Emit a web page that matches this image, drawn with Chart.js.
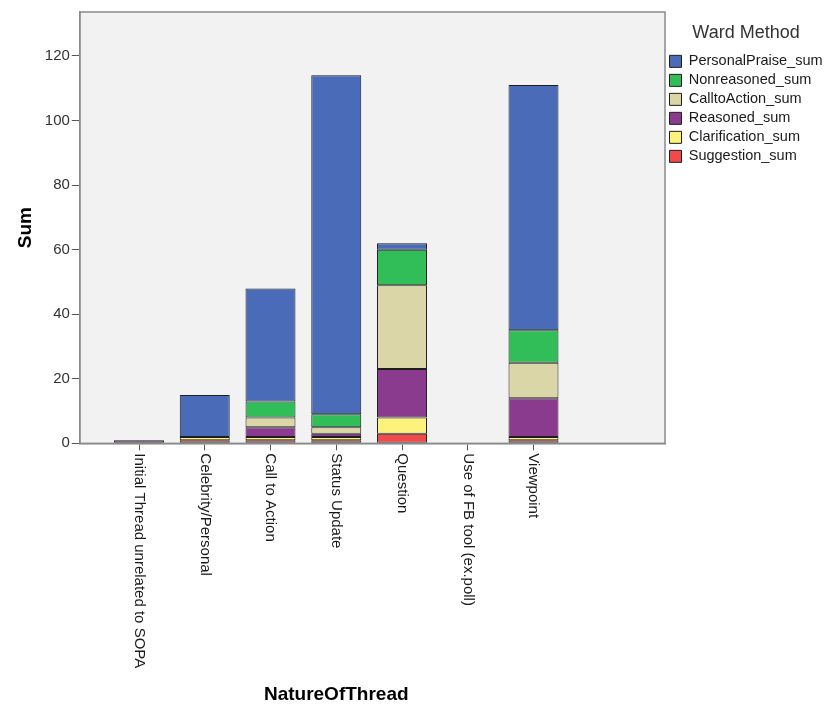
<!DOCTYPE html>
<html>
<head>
<meta charset="utf-8">
<script src="https://cdn.jsdelivr.net/npm/chart.js@4/dist/chart.umd.min.js"></script>
<style>
  html,body{margin:0;padding:0;background:#fff;}
  #wrap{width:827px;height:704px;}
</style>
</head>
<body>
<div id="wrap"><canvas id="chart"></canvas></div>
<script>
// DATA
const categories = ['Initial Thread unrelated to SOPA','Celebrity/Personal','Call to Action','Status Update','Question','Use of FB tool (ex.poll)','Viewpoint'];
const suggestion     = [0, 1, 1, 1, 3, 0, 1];
const clarification  = [0, 1, 1, 1, 5, 0, 1];
const reasoned       = [1, 0, 3, 1, 15, 0, 12];
const callToAction   = [0, 0, 3, 2, 26, 0, 11];
const nonreasoned    = [0, 0, 5, 4, 11, 0, 10];
const personalPraise = [0, 13, 35, 105, 2, 0, 76];
const yTicks = [0, 20, 40, 60, 80, 100, 120];

const font = "'Liberation Sans', Arial, sans-serif";

function pts(arr){
  return arr.map((v,i)=>({x:i, y: v===0 ? null : v}));
}

function ds(label, arr, color){
  return {label:label, data:pts(arr), backgroundColor:color, borderColor:'#1e1e1e', borderWidth:1,
    borderSkipped:false, barPercentage:0.95, categoryPercentage:0.8};
}

// plot background, box and clockwise x labels
const spssLook = {
  id:'spssLook',
  afterInit(chart){
    // keep the legend column as narrow as in the original
    const lg = chart.legend;
    const fit = lg.fit.bind(lg);
    lg.fit = function(){ fit(); this.width = 162; };
  },
  beforeDraw(chart){
    const a = chart.chartArea, c = chart.ctx;
    c.save();
    c.fillStyle = '#f2f2f2';
    c.fillRect(a.left, a.top, a.right-a.left, a.bottom-a.top);
    c.restore();
  },
  afterDraw(chart){
    const a = chart.chartArea, c = chart.ctx, x = chart.scales.x;
    c.save();
    c.strokeStyle = '#8a8a8a';
    c.lineWidth = 1.5;
    c.strokeRect(a.left, a.top, a.right-a.left, a.bottom-a.top);
    c.fillStyle = '#1a1a1a';
    c.font = '15px ' + font;
    c.textAlign = 'left';
    c.textBaseline = 'middle';
    categories.forEach((name,i)=>{
      const px = x.getPixelForValue(i);
      c.save();
      c.translate(px, a.bottom + 10);
      c.rotate(Math.PI/2);
      c.fillText(name, 0, 0);
      c.restore();
    });
    // x title centered on the categories
    const mid = (x.getPixelForValue(0) + x.getPixelForValue(categories.length-1)) / 2;
    c.fillStyle = '#000';
    c.font = 'bold 19px ' + font;
    c.textAlign = 'center';
    c.textBaseline = 'middle';
    c.fillText('NatureOfThread', mid, x.bottom - 9);
    c.restore();
  }
};

new Chart(document.getElementById('chart'),{
  type:'bar',
  data:{
    datasets:[
      ds('Suggestion_sum', suggestion, '#f04a4a'),
      ds('Clarification_sum', clarification, '#fdf27c'),
      ds('Reasoned_sum', reasoned, '#8a3b8e'),
      ds('CalltoAction_sum', callToAction, '#dbd6a7'),
      ds('Nonreasoned_sum', nonreasoned, '#31be58'),
      ds('PersonalPraise_sum', personalPraise, '#4a6bb8')
    ]
  },
  plugins:[spssLook],
  options:{
    responsive:true,
    maintainAspectRatio:false,
    animation:false,
    layout:{padding:{left:12, top:12, right:0, bottom:0}},
    plugins:{
      tooltip:{enabled:false},
      legend:{
        position:'right',
        align:'start',
        reverse:true,
        title:{display:true, text:'Ward Method', color:'#333', font:{family:font, size:18}, padding:{top:12, bottom:4}},
        labels:{boxWidth:12, boxHeight:12, padding:4.5, color:'#1a1a1a', font:{family:font, size:14.5}}
      }
    },
    scales:{
      x:{
        type:'linear',
        min:-0.9,
        max:8.0,
        offset:false,
        stacked:true,
        afterBuildTicks(scale){
          scale.ticks = categories.map((c,i)=>({value:i}));
        },
        ticks:{
          minRotation:90, maxRotation:90, autoSkip:false,
          color:'rgba(0,0,0,0)', font:{family:font, size:15}, padding:4,
          callback:(v)=>categories[v]
        },
        grid:{display:true, offset:false, drawOnChartArea:false, drawTicks:true, tickLength:7, color:'#555'},
        border:{display:true, color:'#8a8a8a', width:1.5},
        title:{display:true, text:'NatureOfThread', color:'rgba(0,0,0,0)', font:{family:font, size:19, weight:'bold'}, padding:{top:6, bottom:2}}
      },
      y:{
        stacked:true,
        min:0,
        max:133.6,
        afterBuildTicks(scale){
          scale.ticks = yTicks.map(v=>({value:v}));
        },
        ticks:{color:'#333', font:{family:font, size:15}, padding:2},
        grid:{display:true, drawOnChartArea:false, drawTicks:true, tickLength:8, color:'#555'},
        border:{display:true, color:'#8a8a8a', width:1.5},
        title:{display:true, text:'Sum', color:'#000', font:{family:font, size:19, weight:'bold'}, padding:{top:2, bottom:6}}
      }
    }
  }
});
</script>
</body>
</html>
